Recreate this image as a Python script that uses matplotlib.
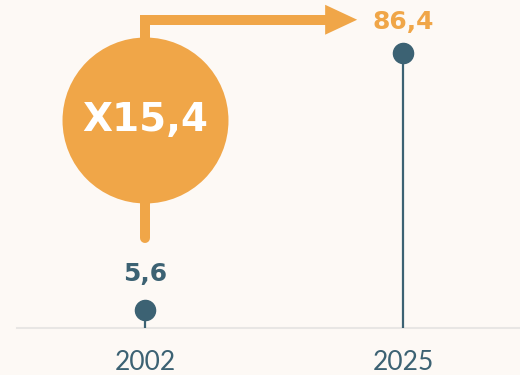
import matplotlib.pyplot as plt
from matplotlib.patches import Polygon

# data
years = ['2002', '2025']
values = [5.6, 86.4]

bg = '#fdf9f5'
teal = '#3c6273'
orange = '#f0a648'

fig = plt.figure(figsize=(5.2, 3.75), dpi=100, facecolor=bg)
ax = fig.add_axes([17 / 520, 47 / 375, 503 / 520, 328 / 375])
ax.set_facecolor(bg)
ax.set_xlim(-0.496, 1.453)
ax.set_ylim(0, 103)

x = list(range(len(years)))

# lollipops
ax.vlines(x, 0, values, color=teal, lw=1.6, zorder=3)
ax.plot(x, values, 'o', color=teal, ms=14.5, zorder=4)

label_colors = [teal, orange]
label_offsets = [26, 22]
for xi, v, c, off in zip(x, values, label_colors, label_offsets):
    ax.annotate(f'{v:.1f}'.replace('.', ','), (xi, v), xytext=(0, off),
                textcoords='offset points', ha='center', va='center',
                fontsize=18, fontweight='bold', color=c)

# growth bubble + arrow
ratio = values[1] / values[0]
cy = 65.3
ax.plot([x[0], x[0], 0.70], [28.3, 96.8, 96.8], color=orange, lw=7.2,
        solid_capstyle='round', solid_joinstyle='miter', zorder=2)
ax.add_patch(Polygon([[0.698, 101.5], [0.822, 96.8], [0.698, 92.1]],
                     closed=True, color=orange, lw=0, zorder=2))
ax.scatter([x[0]], [cy], s=119.5 ** 2, color=orange, lw=0, zorder=3)
ax.text(x[0], cy, 'X' + f'{ratio:.1f}'.replace('.', ','), ha='center',
        va='center', fontsize=28, fontweight='bold', color='white', zorder=4)

# axes styling
for s in ['top', 'left', 'right']:
    ax.spines[s].set_visible(False)
ax.spines['bottom'].set_color('#e8e6e4')
ax.spines['bottom'].set_linewidth(1.5)
ax.set_yticks([])
ax.set_xticks(x)
ax.set_xticklabels(years, fontsize=19, family='Lato')
ax.tick_params(axis='x', length=0, pad=16, labelcolor=teal)

fig.savefig('out.png', dpi=100, facecolor=bg)
